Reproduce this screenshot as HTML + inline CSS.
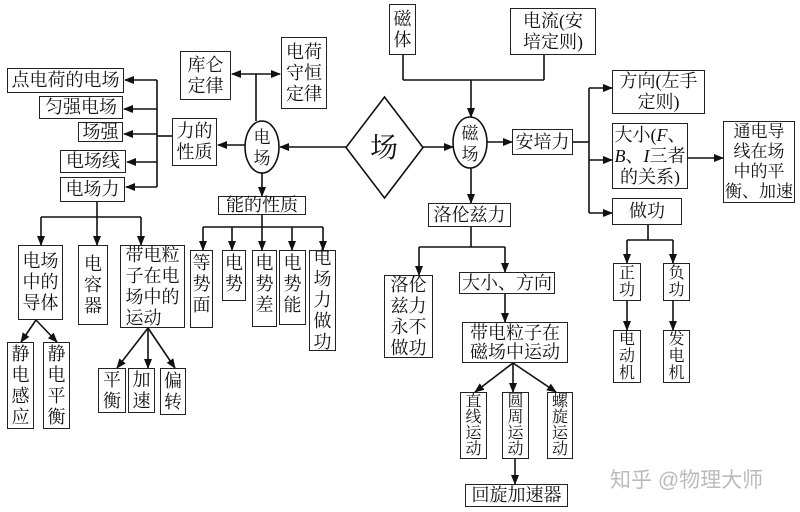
<!DOCTYPE html>
<html><head><meta charset="utf-8"><style>
body{margin:0;width:800px;height:512px;background:#fff;position:relative;overflow:hidden}
.b{position:absolute;border:1.6px solid #222;box-sizing:border-box;display:flex;align-items:center;justify-content:center;text-align:center;font-family:"Liberation Serif","Noto Serif CJK SC",serif;font-size:18px;line-height:21px;color:#111;background:#fff;white-space:nowrap}
.s{font-size:16px}
svg{position:absolute;left:0;top:0}
.wm{position:absolute;left:610px;top:464px;font-family:"Liberation Sans","Noto Sans CJK SC",sans-serif;font-size:21px;color:#bbb}
</style></head><body>
<svg width="800" height="512" viewBox="0 0 800 512">
<defs><marker id="a" markerWidth="10" markerHeight="8" refX="9" refY="4" orient="auto" markerUnits="userSpaceOnUse"><path d="M0,0 L10,4 L0,8 z" fill="#111"/></marker></defs>
<g stroke="#111" stroke-width="1.6" fill="none">
<line x1="256" y1="121" x2="256" y2="74"/>
<line x1="256" y1="74" x2="232" y2="74" marker-end="url(#a)"/>
<line x1="256" y1="74" x2="280" y2="74" marker-end="url(#a)"/>
<line x1="157" y1="80" x2="157" y2="187"/>
<line x1="157" y1="80" x2="125" y2="80" marker-end="url(#a)"/>
<line x1="157" y1="109" x2="124" y2="109" marker-end="url(#a)"/>
<line x1="157" y1="134" x2="124" y2="134" marker-end="url(#a)"/>
<line x1="157" y1="162" x2="127" y2="162" marker-end="url(#a)"/>
<line x1="157" y1="187" x2="126" y2="187" marker-end="url(#a)"/>
<line x1="157" y1="136" x2="172" y2="136"/>
<line x1="245" y1="145" x2="218" y2="145" marker-end="url(#a)"/>
<line x1="346" y1="147" x2="280" y2="147" marker-end="url(#a)"/>
<ellipse cx="262" cy="147" rx="17" ry="26"/>
<line x1="262" y1="173" x2="262" y2="196" marker-end="url(#a)"/>
<line x1="262" y1="215" x2="262" y2="227"/>
<line x1="203" y1="227" x2="323" y2="227"/>
<line x1="203" y1="227" x2="203" y2="250" marker-end="url(#a)"/>
<line x1="232" y1="227" x2="232" y2="250" marker-end="url(#a)"/>
<line x1="262" y1="227" x2="262" y2="250" marker-end="url(#a)"/>
<line x1="292" y1="227" x2="292" y2="250" marker-end="url(#a)"/>
<line x1="323" y1="227" x2="323" y2="250" marker-end="url(#a)"/>
<line x1="97" y1="202" x2="97" y2="217"/>
<line x1="41" y1="217" x2="141" y2="217"/>
<line x1="41" y1="217" x2="41" y2="245" marker-end="url(#a)"/>
<line x1="97" y1="217" x2="97" y2="245" marker-end="url(#a)"/>
<line x1="141" y1="217" x2="141" y2="245" marker-end="url(#a)"/>
<line x1="36" y1="320" x2="21" y2="342" marker-end="url(#a)"/>
<line x1="36" y1="320" x2="57" y2="342" marker-end="url(#a)"/>
<line x1="148" y1="328" x2="117" y2="368" marker-end="url(#a)"/>
<line x1="148" y1="328" x2="148" y2="368" marker-end="url(#a)"/>
<line x1="148" y1="328" x2="175" y2="368" marker-end="url(#a)"/>
<polygon points="384.5,97 423,147.5 384.5,198 346,147.5"/>
<line x1="403" y1="55" x2="403" y2="80"/>
<line x1="544" y1="55" x2="544" y2="80"/>
<line x1="403" y1="80" x2="544" y2="80"/>
<line x1="471" y1="80" x2="471" y2="117" marker-end="url(#a)"/>
<line x1="423" y1="147" x2="453" y2="147" marker-end="url(#a)"/>
<ellipse cx="470" cy="142.5" rx="17" ry="25.5"/>
<line x1="487" y1="142" x2="512" y2="142" marker-end="url(#a)"/>
<line x1="573" y1="142" x2="589" y2="142"/>
<line x1="589" y1="88" x2="589" y2="213"/>
<line x1="589" y1="88" x2="612" y2="88" marker-end="url(#a)"/>
<line x1="589" y1="160" x2="612" y2="160" marker-end="url(#a)"/>
<line x1="589" y1="213" x2="612" y2="213" marker-end="url(#a)"/>
<line x1="688" y1="158" x2="723" y2="158" marker-end="url(#a)"/>
<line x1="648" y1="225" x2="648" y2="240"/>
<line x1="627" y1="240" x2="673" y2="240"/>
<line x1="627" y1="240" x2="627" y2="263" marker-end="url(#a)"/>
<line x1="673" y1="240" x2="673" y2="263" marker-end="url(#a)"/>
<line x1="627" y1="301" x2="627" y2="330" marker-end="url(#a)"/>
<line x1="673" y1="301" x2="673" y2="330" marker-end="url(#a)"/>
<line x1="471" y1="168" x2="471" y2="203" marker-end="url(#a)"/>
<line x1="471" y1="227" x2="471" y2="247"/>
<line x1="419" y1="247" x2="505" y2="247"/>
<line x1="419" y1="247" x2="419" y2="275" marker-end="url(#a)"/>
<line x1="505" y1="247" x2="505" y2="272" marker-end="url(#a)"/>
<line x1="505" y1="294" x2="505" y2="322" marker-end="url(#a)"/>
<line x1="513" y1="363" x2="475" y2="392" marker-end="url(#a)"/>
<line x1="513" y1="363" x2="513" y2="392" marker-end="url(#a)"/>
<line x1="513" y1="363" x2="556" y2="392" marker-end="url(#a)"/>
<line x1="515" y1="459" x2="515" y2="484" marker-end="url(#a)"/>
</g>
<text x="384" y="157" text-anchor="middle" font-family="Liberation Serif, Noto Serif CJK SC, serif" font-size="28" fill="#111">场</text>
<text x="262" y="143" text-anchor="middle" font-family="Liberation Serif, Noto Serif CJK SC, serif" font-size="17" fill="#111">电</text>
<text x="262" y="164" text-anchor="middle" font-family="Liberation Serif, Noto Serif CJK SC, serif" font-size="17" fill="#111">场</text>
<text x="470" y="139" text-anchor="middle" font-family="Liberation Serif, Noto Serif CJK SC, serif" font-size="17" fill="#111">磁</text>
<text x="470" y="160" text-anchor="middle" font-family="Liberation Serif, Noto Serif CJK SC, serif" font-size="17" fill="#111">场</text>
</svg>
<div class="b" style="left:180px;top:51px;width:51px;height:49px">库仑<br>定律</div>
<div class="b" style="left:281px;top:37px;width:46px;height:72px">电荷<br>守恒<br>定律</div>
<div class="b" style="left:7px;top:68px;width:117px;height:25px">点电荷的电场</div>
<div class="b" style="left:39px;top:96px;width:84px;height:23px">匀强电场</div>
<div class="b" style="left:78px;top:122px;width:45px;height:20px">场强</div>
<div class="b" style="left:60px;top:150px;width:66px;height:23px">电场线</div>
<div class="b" style="left:60px;top:177px;width:65px;height:25px">电场力</div>
<div class="b" style="left:172px;top:118px;width:45px;height:48px">力的<br>性质</div>
<div class="b" style="left:218px;top:196px;width:88px;height:19px">能的性质</div>
<div class="b" style="left:18px;top:245px;width:45px;height:75px">电场<br>中的<br>导体</div>
<div class="b" style="left:78px;top:245px;width:30px;height:80px;align-items:flex-start;padding-top:8px">电<br>容<br>器</div>
<div class="b" style="left:120px;top:245px;width:65px;height:83px"><span style="text-align:left">带电粒<br>子在电<br>场中的<br>运动</span></div>
<div class="b" style="left:190px;top:250px;width:23px;height:78px;align-items:flex-start;padding-top:2px">等<br>势<br>面</div>
<div class="b" style="left:222px;top:250px;width:24px;height:51px;align-items:flex-start;padding-top:2px">电<br>势</div>
<div class="b" style="left:252px;top:250px;width:25px;height:77px;align-items:flex-start;padding-top:2px">电<br>势<br>差</div>
<div class="b" style="left:279px;top:250px;width:27px;height:75px;align-items:flex-start;padding-top:2px">电<br>势<br>能</div>
<div class="b" style="left:309px;top:250px;width:27px;height:101px">电<br>场<br>力<br>做<br>功</div>
<div class="b" style="left:7px;top:342px;width:27px;height:87px">静<br>电<br>感<br>应</div>
<div class="b" style="left:43px;top:342px;width:27px;height:87px">静<br>电<br>平<br>衡</div>
<div class="b" style="left:98px;top:368px;width:28px;height:45px">平<br>衡</div>
<div class="b" style="left:128px;top:368px;width:27px;height:45px">加<br>速</div>
<div class="b" style="left:160px;top:368px;width:26px;height:47px">偏<br>转</div>
<div class="b" style="left:389px;top:4px;width:27px;height:51px">磁<br>体</div>
<div class="b" style="left:510px;top:8px;width:86px;height:47px">电流(安<br>培定则)</div>
<div class="b" style="left:512px;top:129px;width:61px;height:26px">安培力</div>
<div class="b" style="left:612px;top:70px;width:93px;height:44px">方向(左手<br>定则)</div>
<div class="b" style="left:612px;top:123px;width:76px;height:66px"><span>大小(<i>F</i>、<br><i>B</i>、<i>I</i>三者<br>的关系)</span></div>
<div class="b" style="left:723px;top:121px;width:72px;height:82px;line-height:20px;font-size:17px">通电导<br>线在场<br>中的平<br>衡、加速</div>
<div class="b" style="left:612px;top:198px;width:70px;height:27px">做功</div>
<div class="b" style="left:428px;top:203px;width:83px;height:24px">洛伦兹力</div>
<div class="b" style="left:384px;top:275px;width:49px;height:83px">洛伦<br>兹力<br>永不<br>做功</div>
<div class="b" style="left:459px;top:272px;width:96px;height:22px">大小、方向</div>
<div class="b" style="left:462px;top:322px;width:106px;height:41px;line-height:19px">带电粒子在<br>磁场中运动</div>
<div class="b s" style="left:460px;top:392px;width:27px;height:67px;line-height:16px">直<br>线<br>运<br>动</div>
<div class="b s" style="left:502px;top:392px;width:27px;height:67px;line-height:16px">圆<br>周<br>运<br>动</div>
<div class="b s" style="left:547px;top:392px;width:26px;height:67px;line-height:16px">螺<br>旋<br>运<br>动</div>
<div class="b" style="left:465px;top:484px;width:103px;height:23px">回旋加速器</div>
<div class="b s" style="left:613px;top:263px;width:28px;height:38px;line-height:17px">正<br>功</div>
<div class="b s" style="left:663px;top:263px;width:27px;height:38px;line-height:17px">负<br>功</div>
<div class="b s" style="left:613px;top:330px;width:28px;height:53px;line-height:17px">电<br>动<br>机</div>
<div class="b s" style="left:663px;top:330px;width:27px;height:53px;line-height:17px">发<br>电<br>机</div>
<div class="wm">知乎 @物理大师</div>
</body></html>
